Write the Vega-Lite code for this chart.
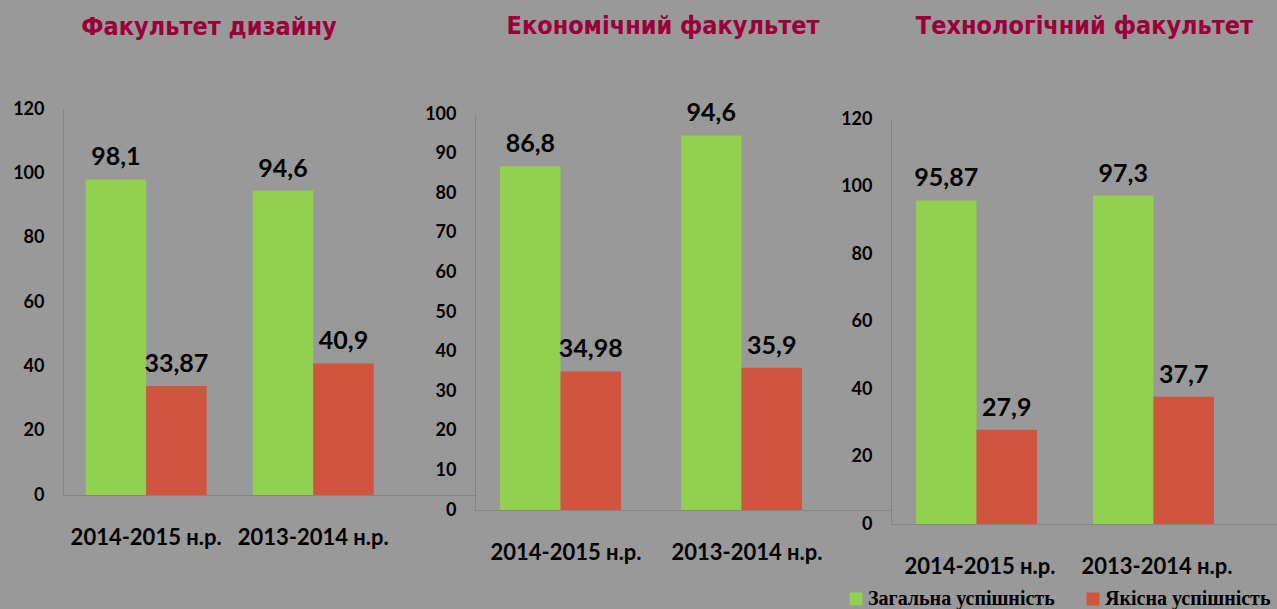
{
  "$schema": "https://vega.github.io/schema/vega-lite/v6.json",
  "background": "#999999",
  "padding": {"left": 12, "top": 14, "right": 0, "bottom": 0},
  "spacing": 0,
  "bounds": "flush",
  "data": {"name": "rows"},
  "datasets": {
    "rows": [
      {"faculty": "design", "year": "2014-2015 н.р.", "series": "Загальна успішність", "value": 98.1},
      {"faculty": "design", "year": "2014-2015 н.р.", "series": "Якісна успішність", "value": 33.87},
      {"faculty": "design", "year": "2013-2014 н.р.", "series": "Загальна успішність", "value": 94.6},
      {"faculty": "design", "year": "2013-2014 н.р.", "series": "Якісна успішність", "value": 40.9},
      {"faculty": "econ", "year": "2014-2015 н.р.", "series": "Загальна успішність", "value": 86.8},
      {"faculty": "econ", "year": "2014-2015 н.р.", "series": "Якісна успішність", "value": 34.98},
      {"faculty": "econ", "year": "2013-2014 н.р.", "series": "Загальна успішність", "value": 94.6},
      {"faculty": "econ", "year": "2013-2014 н.р.", "series": "Якісна успішність", "value": 35.9},
      {"faculty": "tech", "year": "2014-2015 н.р.", "series": "Загальна успішність", "value": 95.87},
      {"faculty": "tech", "year": "2014-2015 н.р.", "series": "Якісна успішність", "value": 27.9},
      {"faculty": "tech", "year": "2013-2014 н.р.", "series": "Загальна успішність", "value": 97.3},
      {"faculty": "tech", "year": "2013-2014 н.р.", "series": "Якісна успішність", "value": 37.7}
    ]
  },
  "config": {
    "locale": {"number": {"decimal": ",", "thousands": " ", "grouping": [3], "currency": ["", ""]}},
    "view": {"stroke": null},
    "axis": {
      "grid": false,
      "ticks": false,
      "domainColor": "#858585",
      "domainWidth": 1,
      "labelColor": "#000000",
      "labelFont": "Lato",
      "labelFontWeight": "bold",
      "title": null
    },
    "axisY": {"labelFontSize": 18, "labelPadding": 19},
    "axisX": {"labelFontSize": 22, "labelPadding": 32, "labelAngle": 0},
    "title": {
      "font": "DejaVu Sans Condensed",
      "fontWeight": "bold",
      "fontSize": 25,
      "color": "#9b0039",
      "anchor": "middle",
      "frame": "group"
    },
    "legend": {
      "orient": "none",
      "direction": "horizontal",
      "legendX": 783,
      "legendY": 480,
      "symbolType": "square",
      "symbolSize": 170,
      "symbolStrokeWidth": 0,
      "labelOffset": 2,
      "labelFont": "Liberation Serif",
      "labelFontWeight": "bold",
      "labelFontSize": 20,
      "labelColor": "#000000",
      "columnPadding": 28,
      "labelLimit": 400,
      "title": null
    }
  },
  "hconcat": [
    {
      "width": 412,
      "height": 386,
      "title": {"text": "Факультет дизайну", "dx": -60, "offset": 60},
      "transform": [{"filter": "datum.faculty === 'design'"}],
      "encoding": {
        "x": {"field": "year", "type": "nominal", "sort": ["2014-2015 н.р.", "2013-2014 н.р."], "scale": {"paddingInner": 0.276, "paddingOuter": 0.371, "align": 0.183}},
        "xOffset": {"field": "series", "type": "nominal", "sort": ["Загальна успішність", "Якісна успішність"]},
        "y": {"field": "value", "type": "quantitative", "scale": {"domain": [0, 120], "range": [386, 0], "nice": false}, "axis": {"values": [0, 20, 40, 60, 80, 100, 120]}}
      },
      "layer": [
        {"mark": {"type": "bar"}, "encoding": {"color": {"field": "series", "type": "nominal", "sort": ["Загальна успішність", "Якісна успішність"], "scale": {"domain": ["Загальна успішність", "Якісна успішність"], "range": ["#92d050", "#d0553f"]}}}},
        {"mark": {"type": "text", "baseline": "bottom", "dy": -9, "font": "Lato", "fontWeight": "bold", "fontSize": 25, "color": "#000000"}, "encoding": {"text": {"field": "value", "type": "quantitative"}}}
      ]
    },
    {
      "width": 416,
      "height": 401,
      "title": {"text": "Економічний факультет", "dx": -20, "offset": 62},
      "transform": [{"filter": "datum.faculty === 'econ'"}],
      "encoding": {
        "x": {"field": "year", "type": "nominal", "sort": ["2014-2015 н.р.", "2013-2014 н.р."], "scale": {"paddingInner": 0.271, "paddingOuter": 0.285, "align": 0.243}},
        "xOffset": {"field": "series", "type": "nominal", "sort": ["Загальна успішність", "Якісна успішність"]},
        "y": {"field": "value", "type": "quantitative", "scale": {"domain": [0, 100], "range": [401, 5], "nice": false}, "axis": {"values": [0, 10, 20, 30, 40, 50, 60, 70, 80, 90, 100]}}
      },
      "layer": [
        {"mark": {"type": "bar"}, "encoding": {"color": {"field": "series", "type": "nominal", "sort": ["Загальна успішність", "Якісна успішність"], "scale": {"domain": ["Загальна успішність", "Якісна успішність"], "range": ["#92d050", "#d0553f"]}}}},
        {"mark": {"type": "text", "baseline": "bottom", "dy": -9, "font": "Lato", "fontWeight": "bold", "fontSize": 25, "color": "#000000"}, "encoding": {"text": {"field": "value", "type": "quantitative"}}}
      ]
    },
    {
      "width": 387,
      "height": 415,
      "title": {"text": "Технологічний факультет", "dx": 0, "offset": 70},
      "transform": [{"filter": "datum.faculty === 'tech'"}],
      "encoding": {
        "x": {"field": "year", "type": "nominal", "sort": ["2014-2015 н.р.", "2013-2014 н.р."], "scale": {"paddingInner": 0.277, "paddingOuter": 0.232, "align": 0.305}},
        "xOffset": {"field": "series", "type": "nominal", "sort": ["Загальна успішність", "Якісна успішність"]},
        "y": {"field": "value", "type": "quantitative", "scale": {"domain": [0, 120], "range": [415, 10], "nice": false}, "axis": {"values": [0, 20, 40, 60, 80, 100, 120]}}
      },
      "layer": [
        {"mark": {"type": "bar"}, "encoding": {"color": {"field": "series", "type": "nominal", "sort": ["Загальна успішність", "Якісна успішність"], "scale": {"domain": ["Загальна успішність", "Якісна успішність"], "range": ["#92d050", "#d0553f"]}}}},
        {"mark": {"type": "text", "baseline": "bottom", "dy": -9, "font": "Lato", "fontWeight": "bold", "fontSize": 25, "color": "#000000"}, "encoding": {"text": {"field": "value", "type": "quantitative"}}}
      ]
    }
  ]
}
